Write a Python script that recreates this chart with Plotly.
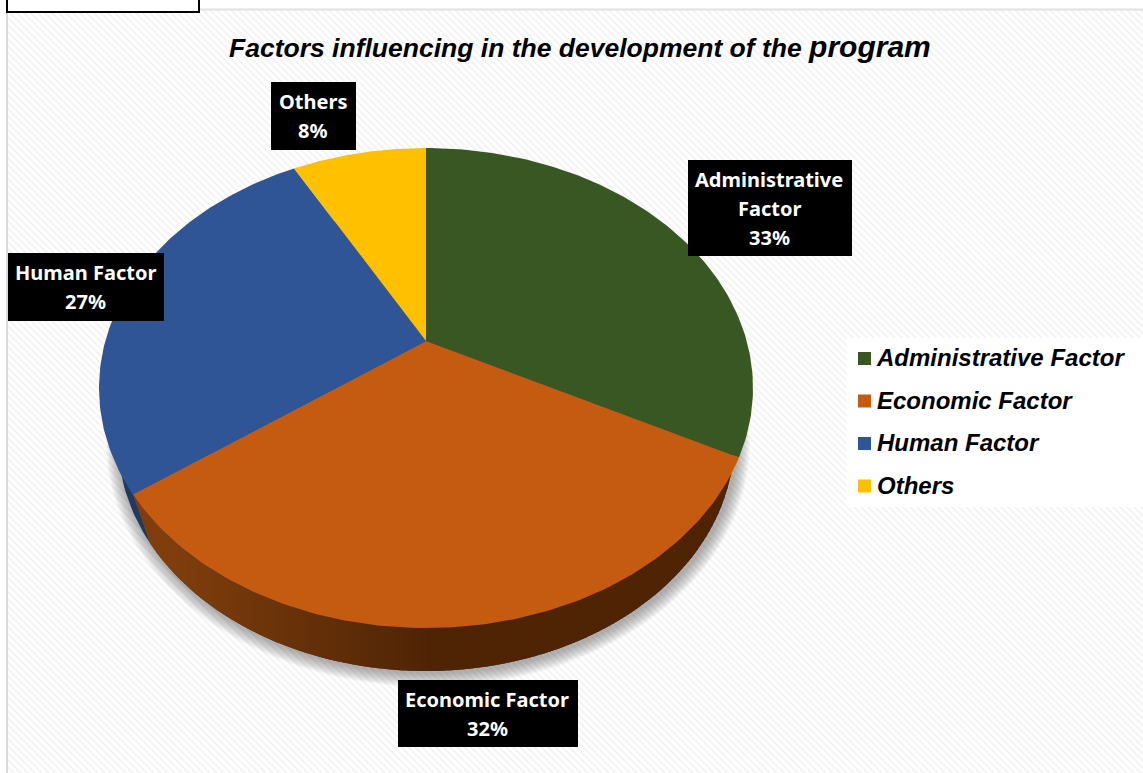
import numpy as np
import plotly.graph_objects as go

# chart data
categories = ["Administrative Factor", "Economic Factor", "Human Factor", "Others"]
values = [32.6, 32.4, 27, 8]
colors = ["#385723", "#C55A11", "#2F5597", "#FFC000"]
title_main = "Factors influencing in the development of the "
title_end = "program"

# geometry of the tilted pie, in page pixels
CX, CY, RX, RY = 426, 388, 327, 240   # top face
BX, BY, BRX, BRY = 426, 441, 308, 230  # bottom rim
K = 47 / 240  # how far the apex sits above the ellipse centre


def rim(frac):
    # circle position (clockwise from 12 o'clock) -> normalised ellipse coords, with perspective
    t = np.asarray(frac) * 2 * np.pi
    x, y = np.sin(t), np.cos(t)
    d = 1 + K * y
    return x * np.sqrt(1 - K * K) / d, (y + K) / d


def top_xy(nx, ny):
    return CX + RX * np.asarray(nx), CY - RY * np.asarray(ny)


def base_xy(nx, ny):
    return BX + BRX * np.asarray(nx), BY - BRY * np.asarray(ny)


def top_lower(x):
    return CY + RY * np.sqrt(np.clip(1 - ((x - CX) / RX) ** 2, 0, 1))


def base_lower(x):
    return BY + BRY * np.sqrt(np.clip(1 - ((x - BX) / BRX) ** 2, 0, 1))


def mix(a, b, t):
    return "rgb(%d,%d,%d)" % tuple(round(a[i] + (b[i] - a[i]) * t) for i in range(3))


fig = go.Figure()
cuts = np.cumsum([0] + values) / sum(values)

# soft shadow under the pie
th = np.linspace(0, 2 * np.pi, 240)
for i in range(14, 0, -1):
    fig.add_trace(go.Scatter(
        x=BX + (BRX + i) * np.cos(th) + 2, y=BY + 2 + (BRY + i) * np.sin(th),
        mode="lines", line_width=0, fill="toself", fillcolor="rgba(90,90,90,0.045)",
        hoverinfo="skip", showlegend=False))

# side wall: dark blue sliver behind, then orange bands going darker to the right
fig.add_trace(go.Scatter(
    x=BX + BRX * np.cos(th), y=BY + BRY * np.sin(th),
    mode="lines", line_width=0, fill="toself", fillcolor="#1F3864",
    hoverinfo="skip", showlegend=False))

nx2, ny2 = rim(cuts[2])
tx2, ty2 = top_xy(nx2, ny2)
bx2, by2 = base_xy(nx2, ny2)
edges = np.arange(float(tx2), 736, 3.0)
for a, b in zip(edges[:-1], edges[1:]):
    xs = np.linspace(a, b + 1, 3)
    low = base_lower(xs)
    # left end of the orange wall is the slanted slice edge
    slant = ty2 + (xs - tx2) * (by2 - ty2) / (bx2 - tx2)
    low = np.where(xs < bx2, slant, low)
    up = top_lower(xs)
    low = np.maximum(low, up)
    t = np.clip((a - 170) / 260, 0, 1)
    c = mix((128, 62, 13), (78, 36, 5), t)
    fig.add_trace(go.Scatter(
        x=np.r_[xs, xs[::-1]], y=np.r_[up, low[::-1]],
        mode="lines", line=dict(width=0), fill="toself", fillcolor=c,
        hoverinfo="skip", showlegend=False))

# top face slices
ax, ay = top_xy(0.0, K)
for name, val, col, c0, c1 in zip(categories, values, colors, cuts[:-1], cuts[1:]):
    nx, ny = rim(np.linspace(c0, c1, 120))
    ex, ey = top_xy(nx, ny)
    fig.add_trace(go.Scatter(
        x=np.r_[ax, ex, ax], y=np.r_[ay, ey, ay], name=name,
        mode="lines", line=dict(width=0), fill="toself", fillcolor=col,
        hovertemplate=f"{name}: {round(val)}%<extra></extra>", showlegend=False))

# hand laid legend, same rows as the original
legend_y = [358.5, 401, 443.5, 486]
for name, col, ly in zip(categories, colors, legend_y):
    fig.add_trace(go.Scatter(
        x=[864.5], y=[ly], mode="markers",
        marker=dict(symbol="square", size=13, color=col, line_width=0),
        hoverinfo="skip", showlegend=False))
    fig.add_trace(go.Scatter(
        x=[877], y=[ly + 1.5], mode="text", text=[name], textposition="middle right",
        textfont=dict(family="Liberation Sans", size=24, color="black", weight="bold", style="italic"),
        hoverinfo="skip", showlegend=False))

# hatched page background
hatch = []
for off in range(-780, 1150, 7):
    hatch.append(f"M{off},0 L{off + 780},780")
shapes = [
    dict(type="path", path=" ".join(hatch), line=dict(color="#F4F4F4", width=2), layer="below"),
    dict(type="rect", x0=0, x1=1143, y0=0, y1=9, fillcolor="white", line_width=0, layer="below"),
    dict(type="rect", x0=0, x1=7, y0=0, y1=773, fillcolor="white", line_width=0, layer="below"),
    dict(type="line", x0=7, x1=7, y0=9, y1=773, line=dict(color="#D9D9D9", width=2), layer="below"),
    dict(type="line", x0=7, x1=1143, y0=9.5, y1=9.5, line=dict(color="#E2E2E2", width=2), layer="below"),
    dict(type="rect", x0=7, x1=199, y0=-4, y1=12, fillcolor="white", line=dict(color="black", width=2), layer="below"),
    dict(type="rect", x0=847, x1=1143, y0=338, y1=507, fillcolor="white", line_width=0, layer="below"),
]

# black data labels: (centre x, centre y, width, height), text lines 29px apart
label_boxes = [(770, 208, 164, 96), (488, 713.5, 180, 67), (86, 287, 156, 68), (313.5, 116, 85, 68)]
annotations = []
for i, (name, val, box) in enumerate(zip(categories, values, label_boxes)):
    shapes.append(dict(type="rect", x0=box[0] - box[2] / 2, x1=box[0] + box[2] / 2,
                       y0=box[1] - box[3] / 2, y1=box[1] + box[3] / 2,
                       fillcolor="black", line_width=0, layer="above"))
    lines = (name.split(" ") if i == 0 else [name]) + [f"{round(val)}%"]
    for j, line in enumerate(lines):
        annotations.append(dict(
            x=box[0] - 1, y=box[1] + (j - (len(lines) - 1) / 2) * 29,
            xref="x", yref="y", xanchor="center", yanchor="middle",
            text=f"<b>{line}</b>", showarrow=False,
            font=dict(family="Noto Sans", size=20, color="white")))

annotations.append(dict(
    x=580, y=46.5, xref="x", yref="y", xanchor="center", yanchor="middle", showarrow=False,
    text=f'<b><i>{title_main}<span style="font-size:30px">{title_end}</span></i></b>',
    font=dict(family="Liberation Sans", size=26.5, color="black")))

fig.update_layout(
    width=1143, height=773, margin=dict(l=0, r=0, t=0, b=0),
    paper_bgcolor="white", plot_bgcolor="white", showlegend=False,
    xaxis=dict(range=[0, 1143], visible=False, fixedrange=True),
    yaxis=dict(range=[773, 0], visible=False, fixedrange=True),
    shapes=shapes, annotations=annotations,
)

fig.write_html("out.html", config=dict(displayModeBar=False),
               post_script="document.body.style.margin='0';document.body.style.overflow='hidden';")
